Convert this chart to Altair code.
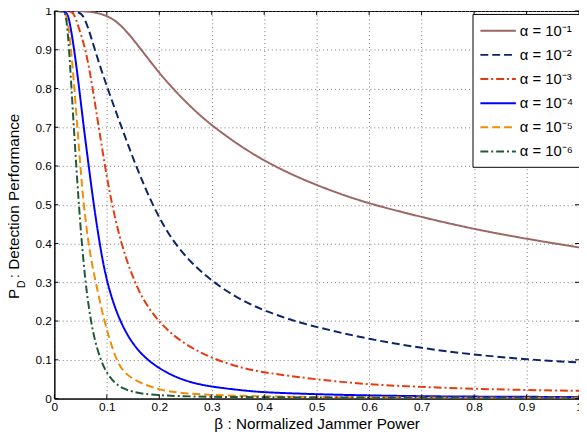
import altair as alt
import pandas as pd

# ---- data ----
labels = ["α = 10⁻¹", "α = 10⁻²", "α = 10⁻³", "α = 10⁻⁴", "α = 10⁻⁵", "α = 10⁻⁶"]

b1 = [0, 0.04, 0.06, 0.08, 0.1, 0.12, 0.14, 0.16, 0.18, 0.2, 0.225, 0.25, 0.275, 0.3, 0.35, 0.4, 0.45, 0.5, 0.55, 0.6, 0.7, 0.8, 0.9, 1.0]
p1 = [1, 1, 0.999, 0.996, 0.988, 0.972, 0.944, 0.91, 0.875, 0.84, 0.8015, 0.766, 0.734, 0.705, 0.655, 0.6135, 0.5795, 0.5505, 0.5255, 0.503, 0.468, 0.437, 0.412, 0.39]

b2 = [0, 0.045, 0.055, 0.065, 0.075, 0.09, 0.105, 0.12, 0.135, 0.15, 0.165, 0.18, 0.2, 0.22, 0.24, 0.26, 0.28, 0.3, 0.33, 0.366, 0.4, 0.45, 0.5, 0.6, 0.7, 0.8, 0.9, 1.0]
p2 = [1, 1, 0.99, 0.955, 0.91, 0.845, 0.787, 0.73, 0.675, 0.62, 0.57, 0.522, 0.466, 0.42, 0.383, 0.353, 0.327, 0.305, 0.275, 0.248, 0.227, 0.203, 0.184, 0.153, 0.13, 0.113, 0.101, 0.093]

b3 = [0, 0.03, 0.036, 0.041, 0.047, 0.06, 0.072, 0.084, 0.097, 0.109, 0.128, 0.15, 0.169, 0.197, 0.24, 0.3, 0.36, 0.4, 0.5, 0.6, 0.7, 0.8, 0.9, 1.0]
p3 = [1, 1, 0.995, 0.98, 0.955, 0.9, 0.81, 0.705, 0.595, 0.505, 0.395, 0.31, 0.255, 0.2, 0.146, 0.103, 0.078, 0.067, 0.049, 0.036, 0.03, 0.025, 0.022, 0.02]

b4 = [0, 0.02, 0.026, 0.03, 0.037, 0.047, 0.056, 0.066, 0.075, 0.088, 0.1, 0.122, 0.155, 0.2, 0.25, 0.3, 0.366, 0.4, 0.5, 0.6, 0.7, 0.8, 0.9, 1.0]
p4 = [1, 1, 0.99, 0.965, 0.91, 0.805, 0.70, 0.595, 0.5, 0.385, 0.3, 0.205, 0.125, 0.075, 0.044, 0.03, 0.02, 0.016, 0.011, 0.008, 0.006, 0.005, 0.0045, 0.004]

b5 = [0, 0.02, 0.025, 0.031, 0.037, 0.043, 0.049, 0.055, 0.064, 0.07, 0.075, 0.086, 0.097, 0.116, 0.13, 0.15, 0.2, 0.27, 0.4, 0.6, 0.8, 1.0]
p5 = [1, 1, 0.98, 0.915, 0.82, 0.715, 0.61, 0.51, 0.41, 0.36, 0.325, 0.255, 0.19, 0.105, 0.072, 0.048, 0.02, 0.01, 0.005, 0.003, 0.002, 0.002]

b6 = [0, 0.018, 0.022, 0.026, 0.03, 0.034, 0.038, 0.042, 0.046, 0.05, 0.056, 0.062, 0.069, 0.077, 0.088, 0.1, 0.115, 0.13, 0.15, 0.178, 0.25, 0.4, 1.0]
p6 = [1, 1, 0.99, 0.94, 0.86, 0.77, 0.68, 0.595, 0.515, 0.44, 0.345, 0.27, 0.205, 0.15, 0.1, 0.065, 0.04, 0.026, 0.017, 0.01, 0.005, 0.003, 0.001]

xticks = [0, 0.1, 0.2, 0.3, 0.4, 0.5, 0.6, 0.7, 0.8, 0.9, 1.0]
yticks = [0, 0.1, 0.2, 0.3, 0.4, 0.5, 0.6, 0.7, 0.8, 0.9, 1.0]

colors = ["#9C6666", "#0B2566", "#E63A0E", "#0000FF", "#F28C00", "#1E5A38"]
dashes = [[1, 0], [8, 4], [8, 3, 2, 3], [1, 0], [8, 4], [8, 3, 2, 3]]

FONT = "Liberation Sans"

rows = []
for lab, bs, ps in zip(labels, [b1, b2, b3, b4, b5, b6], [p1, p2, p3, p4, p5, p6]):
    for b, p in zip(bs, ps):
        rows.append({"series": lab, "beta": b, "pd": p})
df = pd.DataFrame(rows)

xs = alt.Scale(domain=[0, 1], nice=False, zero=False)
ys = alt.Scale(domain=[0, 1], nice=False, zero=False)
xa = alt.Axis(values=xticks, format="~g", title="β : Normalized Jammer Power")
ya = alt.Axis(values=yticks, format="~g", title=None)

legend = alt.Legend(
    title=None, orient="none", legendX=424, legendY=3,
    symbolType="M-1,0H3", symbolSize=324, symbolStrokeWidth=2,
    labelFont=FONT, labelFontSize=15, labelColor="black", labelOffset=21,
    strokeColor="black", fillColor="white", padding=7, rowPadding=6.5,
    cornerRadius=0,
)

lines = alt.Chart(df).mark_line(strokeWidth=2, clip=True, interpolate="basis").encode(
    x=alt.X("beta:Q", scale=xs, axis=xa),
    y=alt.Y("pd:Q", scale=ys, axis=ya),
    color=alt.Color("series:N", scale=alt.Scale(domain=labels, range=colors), legend=legend),
    strokeDash=alt.StrokeDash("series:N", scale=alt.Scale(domain=labels, range=dashes), legend=legend),
)

xt = pd.DataFrame({"v": xticks})
yt = pd.DataFrame({"v": yticks})
tick_style = dict(color="black", strokeWidth=1)
tb = alt.Chart(xt).mark_rule(**tick_style).encode(
    x=alt.X("v:Q", scale=xs, axis=xa), y=alt.YDatum(0, scale=ys, axis=ya), y2=alt.datum(0.0102))
tt = alt.Chart(xt).mark_rule(**tick_style).encode(
    x=alt.X("v:Q", scale=xs, axis=xa), y=alt.YDatum(1, scale=ys, axis=ya), y2=alt.datum(0.9898))
tl = alt.Chart(yt).mark_rule(**tick_style).encode(
    y=alt.Y("v:Q", scale=ys, axis=ya), x=alt.XDatum(0, scale=xs, axis=xa), x2=alt.datum(0.0075))
tr = alt.Chart(yt).mark_rule(**tick_style).encode(
    y=alt.Y("v:Q", scale=ys, axis=ya), x=alt.XDatum(1, scale=xs, axis=xa), x2=alt.datum(0.9925))

# y-axis title with subscript
tP = alt.Chart(pd.DataFrame({"t": ["P"]})).mark_text(
    angle=270, align="left", baseline="middle", font=FONT, fontSize=15.5, color="black"
).encode(text="t:N", x=alt.value(-41), y=alt.value(292))
tD = alt.Chart(pd.DataFrame({"t": ["D"]})).mark_text(
    angle=270, align="left", baseline="middle", font=FONT, fontSize=10.5, color="black"
).encode(text="t:N", x=alt.value(-33), y=alt.value(281))
tR = alt.Chart(pd.DataFrame({"t": [": Detection Performance"]})).mark_text(
    angle=270, align="left", baseline="middle", font=FONT, fontSize=15.5, color="black"
).encode(text="t:N", x=alt.value(-41), y=alt.value(271))

chart = alt.layer(lines, tb, tt, tl, tr, tP, tD, tR).properties(
    width=532, height=393,
    autosize=alt.AutoSizeParams(type="none"),
    padding={"left": 47, "top": 0, "right": 0, "bottom": 40},
).configure_view(
    stroke="black", strokeWidth=1
).configure_axis(
    labelFont=FONT, labelFontSize=12, labelColor="black", labelPadding=3, labelOverlap=False,
    titleFont=FONT, titleFontSize=15.5, titleFontWeight="normal", titleColor="black", titlePadding=4,
    ticks=False, domainColor="black", domainWidth=1,
    grid=True, gridColor="#666666", gridDash=[1, 3], gridWidth=1, gridOpacity=0.9,
).configure_axisX(labelFlush=False)

chart.save("out.html", embed_options={"renderer": "svg", "actions": False})
